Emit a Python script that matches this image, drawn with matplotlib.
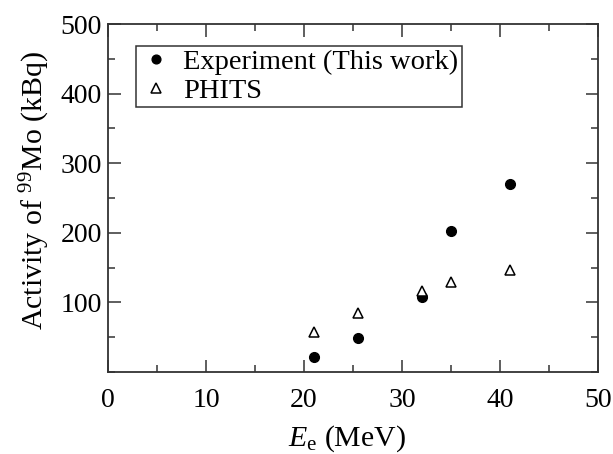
import matplotlib
matplotlib.use("Agg")
import matplotlib.pyplot as plt
from matplotlib.ticker import MultipleLocator, FixedLocator

plt.rcParams['font.family'] = ['Liberation Serif', 'DejaVu Serif']
plt.rcParams['mathtext.fontset'] = 'custom'
plt.rcParams['mathtext.rm'] = 'Liberation Serif'
plt.rcParams['mathtext.it'] = 'Liberation Serif:italic'

# Data
energy_exp = [21.0, 25.5, 32.0, 35.0, 41.0]
activity_exp = [22, 49, 108, 203, 270]
energy_phits = [21.0, 25.5, 32.0, 35.0, 41.0]
activity_phits = [57, 85, 117, 129, 147]
x_ticks = [0, 10, 20, 30, 40, 50]
y_ticks = [100, 200, 300, 400, 500]

fs_tick = 20
fs_lab = 21.5
fs_leg = 20.5
spine_col = '#333333'

fig = plt.figure(figsize=(6.13, 4.54), dpi=100)
ax = fig.add_axes([108/613, 1-372/454, 490/613, 348/454])

ax.plot(energy_exp, activity_exp, linestyle='none', marker='o', ms=7.0,
        color='black', label='Experiment (This work)')
ax.plot(energy_phits, activity_phits, linestyle='none', marker='^', ms=7.5,
        mfc='white', mec='black', mew=1.1, label='PHITS')

ax.set_xlim(0, 50)
ax.set_ylim(0, 500)
ax.xaxis.set_major_locator(FixedLocator(x_ticks))
ax.xaxis.set_minor_locator(MultipleLocator(5))
ax.yaxis.set_major_locator(FixedLocator(y_ticks))
ax.yaxis.set_minor_locator(MultipleLocator(50))
ax.tick_params(which='both', direction='in', top=True, right=True,
               color=spine_col, width=1.1, labelsize=fs_tick, labelcolor='black')
ax.tick_params(which='major', length=9)
ax.tick_params(which='minor', length=5)
ax.tick_params(axis='x', which='major', pad=11.5)
ax.tick_params(axis='y', which='major', pad=4.5)
for s in ax.spines.values():
    s.set_color(spine_col)
    s.set_linewidth(1.3)

ax.set_xlabel('$E_{\\mathrm{e}}$ (MeV)', fontsize=fs_lab)
ax.xaxis.set_label_coords(0.488, -0.148)
ax.set_ylabel('Activity of $^{99}$Mo (kBq)', fontsize=fs_lab)
ax.yaxis.set_label_coords(-0.115, 0.523)

leg = ax.legend(loc='upper left', bbox_to_anchor=(0.057, 0.937), fontsize=fs_leg,
                frameon=True, fancybox=False, edgecolor='black',
                borderpad=0.12, labelspacing=0.1, handletextpad=0.35,
                handlelength=1.2, borderaxespad=0.0, markerscale=0.9)
leg.get_frame().set_linewidth(1.1)

fig.savefig('out.png', dpi=100)
